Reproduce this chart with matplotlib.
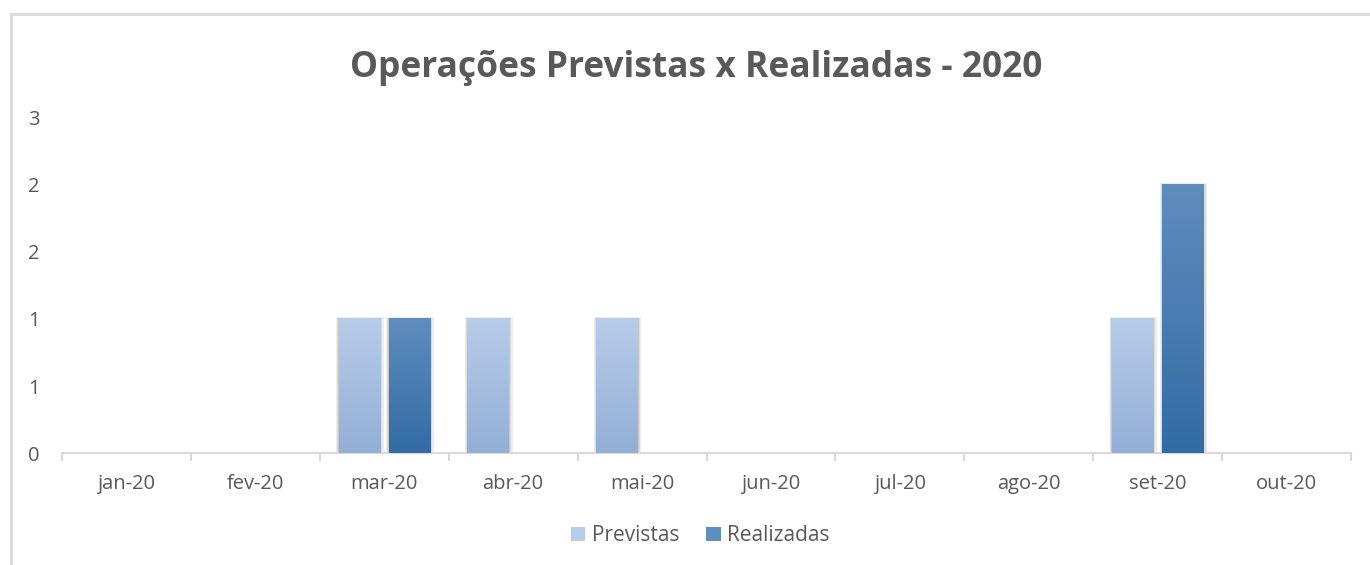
import numpy as np
import matplotlib
matplotlib.use("Agg")
import matplotlib.pyplot as plt
from matplotlib.patches import Rectangle
from matplotlib.colors import LinearSegmentedColormap
from matplotlib.ticker import FuncFormatter, FixedLocator

# Dados
meses = ["jan-20", "fev-20", "mar-20", "abr-20", "mai-20",
         "jun-20", "jul-20", "ago-20", "set-20", "out-20"]
previstas = [0, 0, 1, 1, 1, 0, 0, 0, 1, 0]
realizadas = [0, 0, 1, 0, 0, 0, 0, 0, 2, 0]

plt.rcParams["font.family"] = ["Open Sans", "DejaVu Sans"]
cinza = "#595959"

fig = plt.figure(figsize=(13.7, 5.65), dpi=100)
ax = fig.add_axes([0.0453, 0.1982, 0.9408, 0.593])

x = np.arange(len(meses))
larg = 0.32
desl = 0.195

cores = {
    "Previstas": ("#b7cce9", "#93afd6"),
    "Realizadas": ("#5f8dbd", "#336ba5"),
}

for nome, vals, dx in [("Previstas", previstas, -desl), ("Realizadas", realizadas, desl)]:
    topo, base = cores[nome]
    cmap = LinearSegmentedColormap.from_list(nome, [base, topo])
    barras = ax.bar(x + dx, vals, larg, color=topo, label=nome, zorder=2)
    for b in barras:
        h = b.get_height()
        if h <= 0:
            continue
        x0, w = b.get_x(), b.get_width()
        # sombra
        for k, a in [(0.03, 0.12), (0.018, 0.14), (0.008, 0.18)]:
            ax.add_patch(Rectangle((x0 - k * 0.6, 0), w + k * 1.6, h + k * 0.5,
                                   color="#707070", alpha=a, lw=0, zorder=1))
        grad = np.linspace(0, 1, 256).reshape(-1, 1)
        ax.imshow(grad, extent=(x0, x0 + w, 0, h), origin="lower", cmap=cmap,
                  aspect="auto", zorder=3)

ax.set_xlim(-0.5, len(meses) - 0.5)
ax.set_ylim(0, 2.5)

ax.yaxis.set_major_locator(FixedLocator([0, 0.5, 1, 1.5, 2, 2.5]))
ax.yaxis.set_major_formatter(FuncFormatter(lambda v, p: f"{int(v + 0.5)}"))
ax.tick_params(axis="y", length=0, pad=16, labelsize=14.5, labelcolor=cinza)

ax.set_xticks(x)
ax.set_xticklabels(meses)
ax.xaxis.set_minor_locator(FixedLocator(np.arange(-0.5, len(meses), 1)))
ax.tick_params(axis="x", which="major", length=0, pad=15, labelsize=14.5, labelcolor=cinza)
ax.tick_params(axis="x", which="minor", length=6, width=1.5, color="#d9d9d9", direction="out")

for s in ["top", "right", "left"]:
    ax.spines[s].set_visible(False)
ax.spines["bottom"].set_color("#d9d9d9")
ax.spines["bottom"].set_linewidth(1.5)

fig.text(0.508, 0.88, "Operações Previstas x Realizadas - 2020", ha="center", va="center",
         fontsize=25.5, fontweight="bold", color=cinza)

leg = fig.legend(loc="center", bbox_to_anchor=(0.511, 0.052), ncol=2, frameon=False,
                 fontsize=15, handlelength=0.7, handleheight=0.7, handletextpad=0.3,
                 columnspacing=1.3)
for t in leg.get_texts():
    t.set_color(cinza)

# moldura do gráfico
fig.add_artist(Rectangle((11 / 1370, -0.1), 1.2, 1 - 14 / 565 + 0.1, transform=fig.transFigure,
                         fill=False, edgecolor="#d9d9d9", lw=2))

fig.savefig("out.png", dpi=100)
